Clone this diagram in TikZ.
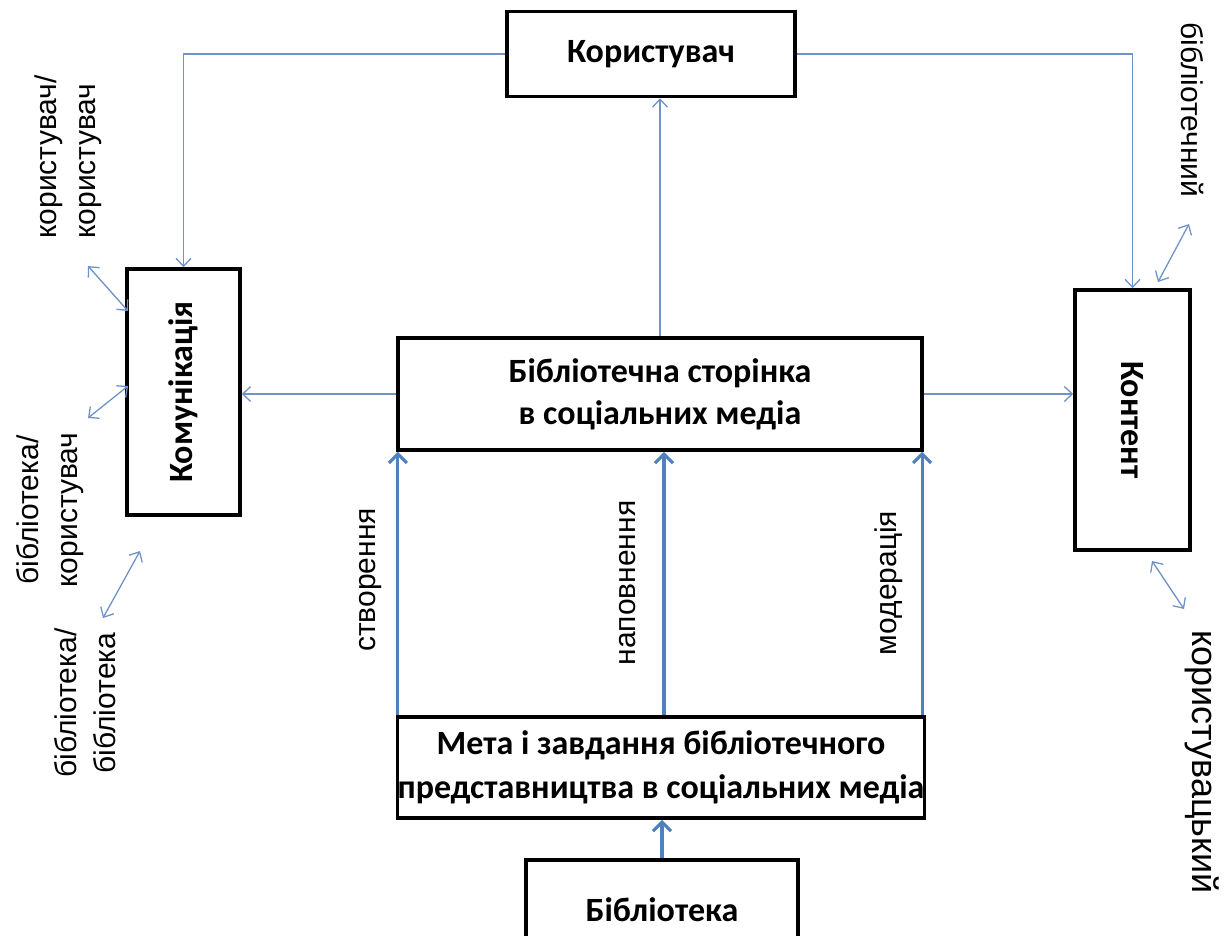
\documentclass[tikz,border=0pt]{standalone}
\usepackage{fontspec}
\setmainfont{Liberation Sans}
\newfontfamily\calibri{Carlito}
\usepackage{tikz}
\usetikzlibrary{arrows.meta, positioning}
\usepackage{xcolor}
\definecolor{linkblue}{HTML}{6F93C9}
\definecolor{flowblue}{HTML}{4F81BD}
\newcommand{\testo}{\fontsize{30}{39}\selectfont}
\newcommand{\titolo}{\calibri\bfseries\fontsize{34}{42}\selectfont}

\begin{document}
\begin{tikzpicture}[x = 1pt, y = -1pt,
    riquadro/.style = {draw, line width = 3.5pt, inner sep = 0pt, align = center, font = \titolo},
    nota/.style = {font = \testo, align = center, inner sep = 0pt},
    legame/.style = {draw = linkblue, line width = 1.3pt, -{Straight Barb[length = 8pt, width = 15pt]}},
    scambio/.style = {legame, {Straight Barb[length = 8pt, width = 15pt]}-{Straight Barb[length = 8pt, width = 15pt]}},
    flusso/.style = {draw = flowblue, line width = 3.2pt, -{Straight Barb[length = 9pt, width = 18pt]}}]
    \useasboundingbox (0,0) rectangle (1224,935);
    \clip (0,0) rectangle (1224,935);
    % Riquadri
    \node[riquadro, minimum width = 288pt, minimum height = 85pt] (utente) at (651,54) {Користувач};
    \node[riquadro, minimum width = 524pt, minimum height = 112pt] (pagina) at (660,394) {Бібліотечна сторінка\\в соціальних медіа};
    \node[riquadro, minimum width = 113pt, minimum height = 246pt] (comunicazione) at (183.5,392) {};
    \node[font = \titolo, rotate = 90] (comunicazione-testo) at (comunicazione) {Комунікація};
    \node[riquadro, minimum width = 115pt, minimum height = 260pt] (contenuto) at (1132.5,420) {};
    \node[font = \titolo, rotate = -90] (contenuto-testo) at (contenuto) {Контент};
    \node[riquadro, minimum width = 526pt, minimum height = 101pt, font = \calibri\bfseries\fontsize{34}{44}\selectfont] (obiettivo) at (661,767.5) {Мета і завдання бібліотечного\\представництва в соціальних медіа};
    \node[riquadro, minimum width = 272pt, minimum height = 100pt] (biblioteca) at (662,910) {Бібліотека};
    % Frecce sottili
    \draw[legame] (utente.west) -| (comunicazione.north);
    \draw[legame] (utente.east) -| (contenuto.north);
    \draw[legame] (pagina.north) -- (pagina.north |- utente.south);
    \draw[legame] (pagina.west) -- (pagina.west -| comunicazione.east);
    \draw[legame] (pagina.east) -- (pagina.east -| contenuto.west);
    % Frecce spesse
    \draw[flusso] ([xshift = 2pt]obiettivo.north west) -- ([xshift = 2pt]obiettivo.north west |- pagina.south);
    \draw[flusso] ([xshift = 3pt]obiettivo.north) -- ([xshift = 3pt]obiettivo.north |- pagina.south);
    \draw[flusso] ([xshift = -4pt]obiettivo.north east) -- ([xshift = -4pt]obiettivo.north east |- pagina.south);
    \draw[flusso] (biblioteca.north) -- (biblioteca.north |- obiettivo.south);
    % Etichette delle frecce
    \node[nota, rotate = 90] (creazione) at (371,580) {створення};
    \node[nota, rotate = 90] (riempimento) at (628,583) {наповнення};
    \node[nota, rotate = 90] (moderazione) at (889,583) {модерація};
    % Scambi
    \coordinate (uu-a) at (88,266);
    \coordinate (uu-b) at (128,311);
    \coordinate (bu-a) at (128,386);
    \coordinate (bu-b) at (88,418);
    \coordinate (bb-a) at (140,551);
    \coordinate (bb-b) at (103,618);
    \coordinate (cb-a) at (1158,282);
    \coordinate (cb-b) at (1189,224);
    \coordinate (cu-a) at (1152,561);
    \coordinate (cu-b) at (1184,609);
    \draw[scambio] (uu-a) -- (uu-b);
    \draw[scambio] (bu-a) -- (bu-b);
    \draw[scambio] (bb-a) -- (bb-b);
    \draw[scambio] (cb-a) -- (cb-b);
    \draw[scambio] (cu-a) -- (cu-b);
    \node[nota, rotate = 90, align = left] (nota-uu) at (68,157) {користувач/\\користувач};
    \node[nota, rotate = 90] (nota-bu) at (50,510) {бібліотека/\\користувач};
    \node[nota, rotate = 90] (nota-bb) at (85,703) {бібліотека/\\бібліотека};
    \node[nota, rotate = -90] (nota-cb) at (1192,110) {бібліотечний};
    \node[nota, rotate = -90, font = \fontsize{36}{42}\selectfont] (nota-cu) at (1202,762) {користувацький};
\end{tikzpicture}
\end{document}
